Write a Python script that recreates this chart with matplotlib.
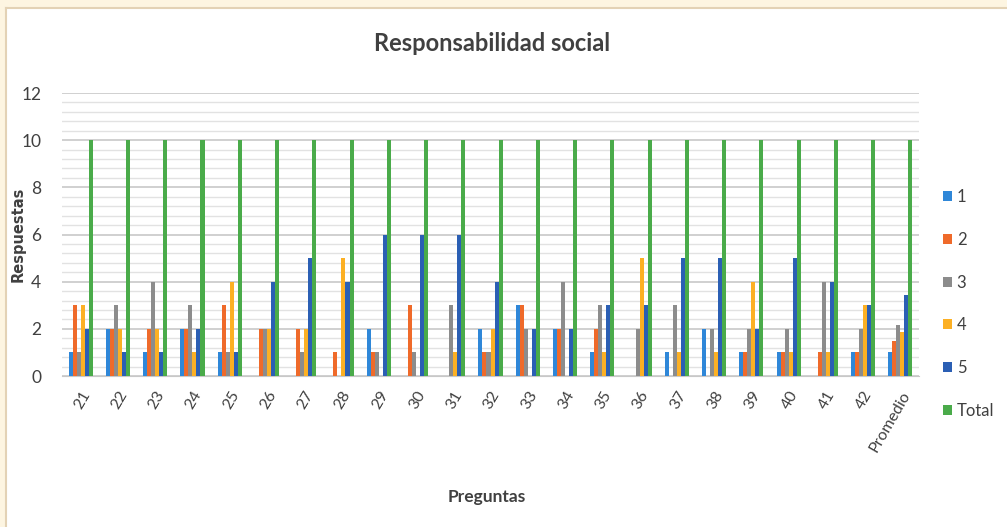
import numpy as np
import matplotlib.pyplot as plt
from matplotlib.patches import Rectangle
from matplotlib.lines import Line2D

preguntas = ['21', '22', '23', '24', '25', '26', '27', '28', '29', '30', '31', '32',
             '33', '34', '35', '36', '37', '38', '39', '40', '41', '42', 'Promedio']
s1 = [1, 2, 1, 2, 1, 0, 0, 0, 2, 0, 0, 2, 3, 2, 1, 0, 1, 2, 1, 1, 0, 1, 1.0]
s2 = [3, 2, 2, 2, 3, 2, 2, 1, 1, 3, 0, 1, 3, 2, 2, 0, 0, 0, 1, 1, 1, 1, 1.5]
s3 = [1, 3, 4, 3, 1, 2, 1, 0, 1, 1, 3, 1, 2, 4, 3, 2, 3, 2, 2, 2, 4, 2, 2.15]
s4 = [3, 2, 2, 1, 4, 2, 2, 5, 0, 0, 1, 2, 0, 0, 1, 5, 1, 1, 4, 1, 1, 3, 1.85]
s5 = [2, 1, 1, 2, 1, 4, 5, 4, 6, 6, 6, 4, 2, 2, 3, 3, 5, 5, 2, 5, 4, 3, 3.45]
total = [10] * 23

series = [('1', s1), ('2', s2), ('3', s3), ('4', s4), ('5', s5), ('Total', total)]
colors = ['#2f87d8', '#ef6a2a', '#8c8c8c', '#fcb024', '#2b5fb4', '#4aab4a']

font = ['Lato', 'DejaVu Sans']

fig = plt.figure(figsize=(10.07, 5.27), dpi=100)
fig.patch.set_facecolor('white')

# cream frame at top and left
fig.add_artist(Rectangle((0, 1 - 7 / 527), 1, 7 / 527, transform=fig.transFigure,
                         facecolor='#fdf5e1', edgecolor='none', zorder=0))
fig.add_artist(Rectangle((0, 0), 5 / 1007, 1, transform=fig.transFigure,
                         facecolor='#fdf5e1', edgecolor='none', zorder=0))
fig.add_artist(Line2D([5.5 / 1007, 1], [1 - 7.5 / 527, 1 - 7.5 / 527], transform=fig.transFigure,
                      color='#e3d2b5', lw=1.5))
fig.add_artist(Line2D([5.5 / 1007, 5.5 / 1007], [0, 1 - 7.5 / 527], transform=fig.transFigure,
                      color='#e3d2b5', lw=1.5))

ax = fig.add_axes([0.0616, 0.2865, 0.851, 0.537])
x = np.arange(len(preguntas))
w = 0.108
for i, ((name, vals), c) in enumerate(zip(series, colors)):
    ax.bar(x + (i - 2.5) * w, vals, width=w, color=c, label=name, zorder=3)

ax.set_xlim(-0.5, len(preguntas) - 0.5)
ax.set_ylim(0, 12)
ax.set_yticks(range(0, 13, 2))
ax.set_yticks(np.arange(0, 12.01, 0.4), minor=True)
ax.grid(axis='y', which='major', color='#c8c8c8', lw=1.2, zorder=0)
ax.grid(axis='y', which='minor', color='#e2e2e2', lw=1.0, zorder=0)
ax.tick_params(axis='y', which='both', length=0, pad=15)
for sp in ['top', 'right', 'left']:
    ax.spines[sp].set_visible(False)
ax.spines['bottom'].set_color('#c8c8c8')
ax.set_xticks(x)
ax.set_xticklabels(preguntas, rotation=60, ha='right', rotation_mode='anchor',
                   family=font, fontsize=11.5, color='#404040')
ax.tick_params(axis='x', length=0, pad=9)
for lab in ax.get_yticklabels():
    lab.set_family(font)
    lab.set_fontsize(12.5)
    lab.set_color('#404040')

fig.text(0.018, 0.555, 'Respuestas', rotation=90, ha='center', va='center',
         fontsize=10.5, fontweight='bold', color='#404040')
fig.text(0.489, 0.917, 'Responsabilidad social', ha='center', va='center',
         family=font, fontsize=17, fontweight='bold', color='#404040')
fig.text(0.483, 0.057, 'Preguntas', ha='center', va='center',
         family=font, fontsize=12.5, fontweight='bold', color='#404040')

leg = ax.legend(loc='center left', bbox_to_anchor=(1.01, 0.255), frameon=False,
                handlelength=0.55, handleheight=0.55, handletextpad=0.3,
                labelspacing=1.6, prop={'family': font, 'size': 12})
for t in leg.get_texts():
    t.set_color('#404040')

fig.savefig('out.png', dpi=100)
